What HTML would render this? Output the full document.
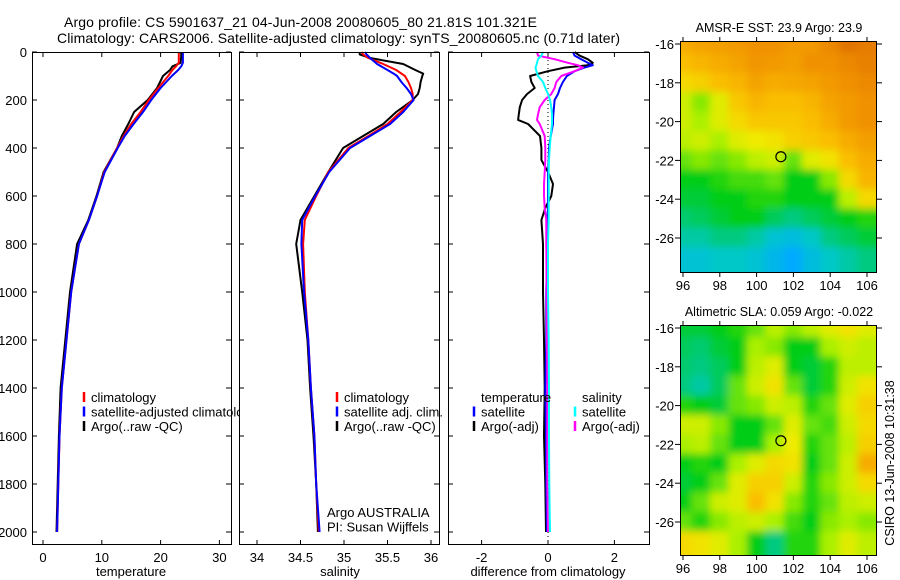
<!DOCTYPE html>
<html><head><meta charset="utf-8"><style>
body{margin:0;background:#fff;}
svg{display:block;font-family:"Liberation Sans",sans-serif;}
</style></head><body>
<svg id="chart" width="900" height="580" viewBox="0 0 900 580">
<defs>
<filter id="blur" x="-5%" y="-5%" width="110%" height="110%"><feGaussianBlur stdDeviation="4"/></filter>
<clipPath id="clipMap1"><rect x="680" y="41" width="197" height="232"/></clipPath>
<clipPath id="clipMap2"><rect x="680" y="325" width="197" height="231"/></clipPath>
</defs>
<text x="64" y="27" font-size="14" textLength="473">Argo profile: CS 5901637_21 04-Jun-2008 20080605_80 21.81S 101.321E</text>
<text x="57" y="43" font-size="14" textLength="563">Climatology: CARS2006. Satellite-adjusted climatology: synTS_20080605.nc (0.71d later)</text>
<g id="layer"></g>
</svg>
<script>
// ---- profile data ----
const depthT = [0,20,45,60,75,100,150,200,250,300,350,400,500,600,700,800,1000,1200,1400,1600,1800,2000];
const tempClim = [23.1,23.1,23.1,22.6,22.0,21.3,19.6,18.0,16.6,15.0,13.7,12.6,10.4,9.2,7.8,6.1,4.8,4.0,3.2,2.8,2.6,2.4];
const tempSat = [23.8,23.8,23.8,23.5,23.0,21.9,20.0,18.4,17.0,15.4,13.9,12.7,10.5,9.2,7.8,6.1,4.8,4.0,3.2,2.8,2.6,2.4];
const tempArgo = [23.5,23.5,23.4,22.0,21.6,20.4,19.4,17.8,15.5,14.5,13.4,12.6,10.3,9.1,7.7,5.8,4.6,3.8,3.0,2.7,2.5,2.3];
const depthS = [0,10,25,50,75,90,100,125,150,175,200,250,300,350,400,500,600,700,800,1000,1200,1400,1600,1800,2000];
const salClim = [35.2,35.22,35.28,35.45,35.60,35.66,35.70,35.74,35.77,35.79,35.79,35.65,35.50,35.28,35.05,34.82,34.68,34.55,34.53,34.55,34.59,34.62,34.66,34.68,34.71];
const salSat = [35.24,35.26,35.30,35.38,35.50,35.57,35.61,35.66,35.72,35.77,35.80,35.68,35.53,35.30,35.07,34.83,34.67,34.52,34.51,34.54,34.59,34.62,34.66,34.68,34.72];
const salArgo = [35.18,35.18,35.30,35.68,35.82,35.91,35.90,35.88,35.87,35.85,35.79,35.60,35.45,35.22,34.99,34.82,34.66,34.50,34.45,34.52,34.58,34.61,34.65,34.68,34.70];
const depthD = [0,15,30,45,55,65,80,100,125,150,175,200,230,260,283,300,350,400,450,500,550,600,650,700,800,1000,1200,1400,1600,1800,2000];
const dTsat = [0.75,0.8,1.0,1.2,1.35,1.1,0.8,0.57,0.45,0.36,0.3,0.2,0.18,0.16,0.15,0.15,0.08,0.03,0.02,0,0,0,0,-0.02,-0.02,-0.05,-0.05,-0.08,-0.06,-0.05,-0.03];
const dTargo = [0.8,0.95,1.2,1.35,1.2,0.5,0.0,-0.54,-0.5,-0.4,-0.63,-0.78,-0.85,-0.88,-0.9,-0.6,-0.24,-0.2,-0.2,0,0.15,0.1,-0.08,-0.2,-0.15,-0.15,-0.12,-0.1,-0.12,-0.08,-0.06];
const dSsat = [-0.15,-0.2,-0.3,-0.33,-0.35,-0.38,-0.35,-0.3,-0.15,-0.08,0.0,0.06,0.1,0.12,0.12,0.12,0.08,0.05,0.03,0.02,0.02,0.02,0.02,0.02,0.0,0.0,0.02,0.03,0.03,0.04,0.06];
const dSargo = [-0.33,-0.3,0.2,0.6,0.9,1.05,0.8,0.4,0.25,0.2,0.1,-0.1,-0.25,-0.3,-0.33,-0.25,-0.1,-0.08,-0.08,-0.1,-0.12,-0.12,-0.1,-0.05,-0.05,-0.04,-0.03,-0.02,-0.02,-0.02,0.0];
const depthTicks = [0,200,400,600,800,1000,1200,1400,1600,1800,2000];
const tempTicks = [0,10,20,30];
const salTicks = [34,34.5,35,35.5,36];
const diffTicks = [-2,0,2];
// ---- map data (rows lat -16..-27, cols lon 96..106) ----
const lonTicks = [96,98,100,102,104,106];
const latTicks = [-16,-18,-20,-22,-24,-26];
const sstGrid = [
[.82,.84,.85,.86,.88,.88,.86,.86,.9,.95,.93],
[.78,.80,.82,.84,.87,.86,.85,.88,.88,.9,.92],
[.72,.74,.78,.80,.84,.82,.83,.84,.86,.88,.9],
[.64,.58,.66,.76,.80,.78,.78,.80,.84,.86,.88],
[.64,.60,.66,.72,.76,.76,.76,.78,.82,.86,.88],
[.62,.64,.60,.66,.68,.70,.74,.76,.78,.82,.85],
[.56,.58,.56,.58,.62,.64,.56,.66,.70,.78,.82],
[.50,.50,.52,.54,.54,.56,.50,.50,.58,.72,.80],
[.48,.48,.50,.50,.52,.52,.50,.50,.50,.62,.72],
[.45,.46,.48,.50,.50,.46,.44,.46,.48,.50,.52],
[.42,.42,.44,.44,.42,.38,.36,.40,.44,.46,.48],
[.38,.38,.40,.40,.38,.34,.30,.36,.40,.42,.44]];
const slaGrid = [
[.48,.48,.50,.52,.56,.62,.58,.62,.66,.70,.66],
[.46,.45,.48,.50,.60,.58,.50,.50,.60,.64,.62],
[.45,.44,.46,.50,.62,.66,.50,.48,.52,.62,.62],
[.44,.42,.46,.56,.64,.70,.56,.48,.52,.64,.70],
[.52,.50,.48,.56,.58,.64,.62,.52,.56,.66,.74],
[.64,.64,.58,.50,.50,.56,.66,.56,.54,.64,.72],
[.60,.62,.56,.50,.50,.60,.68,.52,.56,.62,.74],
[.50,.52,.50,.60,.66,.72,.70,.50,.56,.64,.82],
[.48,.50,.56,.66,.74,.74,.64,.52,.58,.64,.72],
[.50,.56,.64,.66,.78,.70,.58,.52,.56,.62,.64],
[.56,.52,.58,.62,.64,.60,.54,.50,.58,.60,.58],
[.72,.70,.66,.60,.50,.44,.52,.52,.60,.66,.62]];
const argoLon = 101.321, argoLat = -21.81;

const NS='http://www.w3.org/2000/svg';
const layer=document.getElementById('layer');
function mk(tag,attrs,parent){const e=document.createElementNS(NS,tag);for(const k in attrs)e.setAttribute(k,attrs[k]);(parent||layer).appendChild(e);return e;}

const Y = d => 52 + d*0.24;
const panels = [
 {name:'temperature',x0:32,x1:231,X:v=>43+v*5.88,ticks:tempTicks,label:'temperature',lx:131},
 {name:'salinity',x0:239,x1:439,X:v=>257+(v-34)*87,ticks:salTicks,label:'salinity',lx:340},
 {name:'difference',x0:448,x1:649,X:v=>548+v*33.2,ticks:diffTicks,label:'difference from climatology',lx:548}
];
panels.forEach((p,pi)=>{
  const g=mk('g',{});
  
  
  const bg=mk('rect',{x:p.x0,y:52,width:p.x1-p.x0,height:493,fill:'#fff'},g);
  
  
  p.ticks.forEach(t=>{
    const x=p.X(t);
    mk('line',{x1:x,x2:x,y1:545,y2:540,stroke:'#000'},g);
    mk('line',{x1:x,x2:x,y1:52,y2:57,stroke:'#000'},g);
    const tl=mk('text',{x:x,y:562,'font-size':13,'text-anchor':'middle'},g);
    tl.textContent=String(t);
    
    
  });
  depthTicks.forEach(d=>{
    const y=Y(d);
    mk('line',{x1:p.x0,x2:p.x0+5,y1:y,y2:y,stroke:'#000'},g);
    mk('line',{x1:p.x1,x2:p.x1-5,y1:y,y2:y,stroke:'#000'},g);
    if(pi===0){
      const tl=mk('text',{x:27,y:y+5,'font-size':13,'text-anchor':'end'},g);
      tl.textContent=String(d);
      
      
    }
  });
  const al=mk('text',{x:p.lx,y:576,'font-size':13,'text-anchor':'middle'},g);
  al.textContent=p.label;
  
  
  p.g=g;
});
function line(p,depths,vals,color,name,w){
  const pts=depths.map((d,i)=>p.X(vals[i]).toFixed(1)+','+Y(d).toFixed(1)).join(' ');
  const l=mk('polyline',{points:pts,fill:'none',stroke:color,'stroke-width':w||2,'stroke-linejoin':'round'},p.g);
  
  
}
line(panels[0],depthT,tempArgo,'#000','temp-argo-line');
line(panels[0],depthT,tempClim,'#f00','temp-climatology-line');
line(panels[0],depthT,tempSat,'#00f','temp-satellite-line');
line(panels[1],depthS,salArgo,'#000','sal-argo-line');
line(panels[1],depthS,salClim,'#f00','sal-climatology-line');
line(panels[1],depthS,salSat,'#00f','sal-satellite-line');
mk('line',{x1:548,x2:548,y1:52,y2:545,stroke:'#000','stroke-dasharray':'1,3'},panels[2].g);
line(panels[2],depthD,dTargo,'#000','temp-argo-diff-line');
line(panels[2],depthD,dTsat,'#00f','temp-satellite-diff-line');
line(panels[2],depthD,dSargo,'#f0f','sal-argo-diff-line');
line(panels[2],depthD,dSsat,'#0ff','sal-satellite-diff-line');
panels.forEach(p=>{mk('rect',{x:p.x0+.5,y:52.5,width:p.x1-p.x0,height:492,fill:'none',stroke:'#000'},p.g);});

function legend(items,x,y,g){
  items.forEach((it,i)=>{
    if(it.c) { const m=mk('line',{x1:x,x2:x,y1:y+i*14.5-5,y2:y+i*14.5+5,stroke:it.c,'stroke-width':2.5},g);
        }
    const t=mk('text',{x:x+7,y:y+i*14.5+5,'font-size':13},g);
    t.textContent=it.t;
    
    
  });
}
legend([{c:'#f00',t:'climatology'},{c:'#00f',t:'satellite-adjusted climatology'},{c:'#000',t:'Argo(..raw -QC)'}],84,397,panels[0].g);
layer.appendChild(panels[1].g); layer.appendChild(panels[2].g);
legend([{c:'#f00',t:'climatology'},{c:'#00f',t:'satellite adj. clim.'},{c:'#000',t:'Argo(..raw -QC)'}],337,397,panels[1].g);
legend([{t:'Argo AUSTRALIA'},{t:'PI: Susan Wijffels'}],320,512,panels[1].g);
legend([{t:'temperature'},{c:'#00f',t:'satellite'},{c:'#000',t:'Argo(-adj)'}],474,397,panels[2].g);
legend([{t:'salinity'},{c:'#0ff',t:'satellite'},{c:'#f0f',t:'Argo(-adj)'}],575,397,panels[2].g);

// ---- maps ----
const stops=[[.3,[0,170,255]],[.4,[0,200,200]],[.5,[0,205,20]],[.6,[170,240,0]],[.68,[240,235,0]],[.78,[250,190,0]],[.88,[240,145,0]],[1,[215,95,0]]];
function cmap(v){
  if(v<=stops[0][0])return 'rgb('+stops[0][1]+')';
  for(let i=1;i<stops.length;i++){if(v<=stops[i][0]){const a=stops[i-1],b=stops[i],f=(v-a[0])/(b[0]-a[0]);
    return 'rgb('+a[1].map((c,k)=>Math.round(c+(b[1][k]-c)*f)).join(',')+')';}}
  return 'rgb('+stops[stops.length-1][1]+')';
}
function map(grid,top,lat16y,clip,title,name){
  const g=mk('g',{});
  
  
  const LX=lon=>683+(lon-96)*18.4, LY=lat=>lat16y+(-16-lat)*19.4;
  const cg=mk('g',{'clip-path':'url(#'+clip+')'},g);
  const bg=mk('g',{filter:'url(#blur)'},cg);
  for(let i=-1;i<=grid.length;i++)for(let j=-1;j<=grid[0].length;j++){
    const r=grid[Math.min(Math.max(i,0),grid.length-1)][Math.min(Math.max(j,0),grid[0].length-1)];
    const lon=96+j, lat=-16-i;
    const c=mk('rect',{x:LX(lon-0.5)-0.5,y:LY(lat+0.5)-0.5,width:19.4,height:20.4,fill:cmap(r)},bg);
    
    
  }
  const bottom=top+(name==='sst-map'?232:231);
  mk('rect',{x:680.5,y:top+.5,width:196,height:bottom-top-1,fill:'none',stroke:'#000'},g);
  lonTicks.forEach(l=>{const x=LX(l);
    mk('line',{x1:x,x2:x,y1:bottom,y2:bottom+4,stroke:'#000'},g);
    mk('line',{x1:x,x2:x,y1:top,y2:top-4,stroke:'#000'},g);
    const t=mk('text',{x:x,y:bottom+17,'font-size':13,'text-anchor':'middle'},g);t.textContent=String(l);
     });
  latTicks.forEach(l=>{const y=LY(l);
    mk('line',{x1:877,x2:882,y1:y,y2:y,stroke:'#000'},g);
    mk('line',{x1:675,x2:680,y1:y,y2:y,stroke:'#000'},g);
    const t=mk('text',{x:674,y:y+5,'font-size':13,'text-anchor':'end'},g);t.textContent=String(l);
     });
  const c=mk('circle',{cx:LX(argoLon),cy:LY(argoLat),r:5,fill:'none',stroke:'#000','stroke-width':1.2},g);
  
  
  const tt=mk('text',{x:779,y:top-9,'font-size':12.5,'text-anchor':'middle'},g);
  tt.textContent=title;
  
  
}
map(sstGrid,41,44,'clipMap1','AMSR-E SST: 23.9 Argo: 23.9','sst-map');
map(slaGrid,325,328,'clipMap2','Altimetric SLA: 0.059 Argo: -0.022','sla-map');
const rt=mk('text',{x:0,y:0,'font-size':12.5,'text-anchor':'middle',transform:'translate(894,463) rotate(-90)'});
rt.textContent='CSIRO 13-Jun-2008 10:31:38';


</script>
</body></html>
